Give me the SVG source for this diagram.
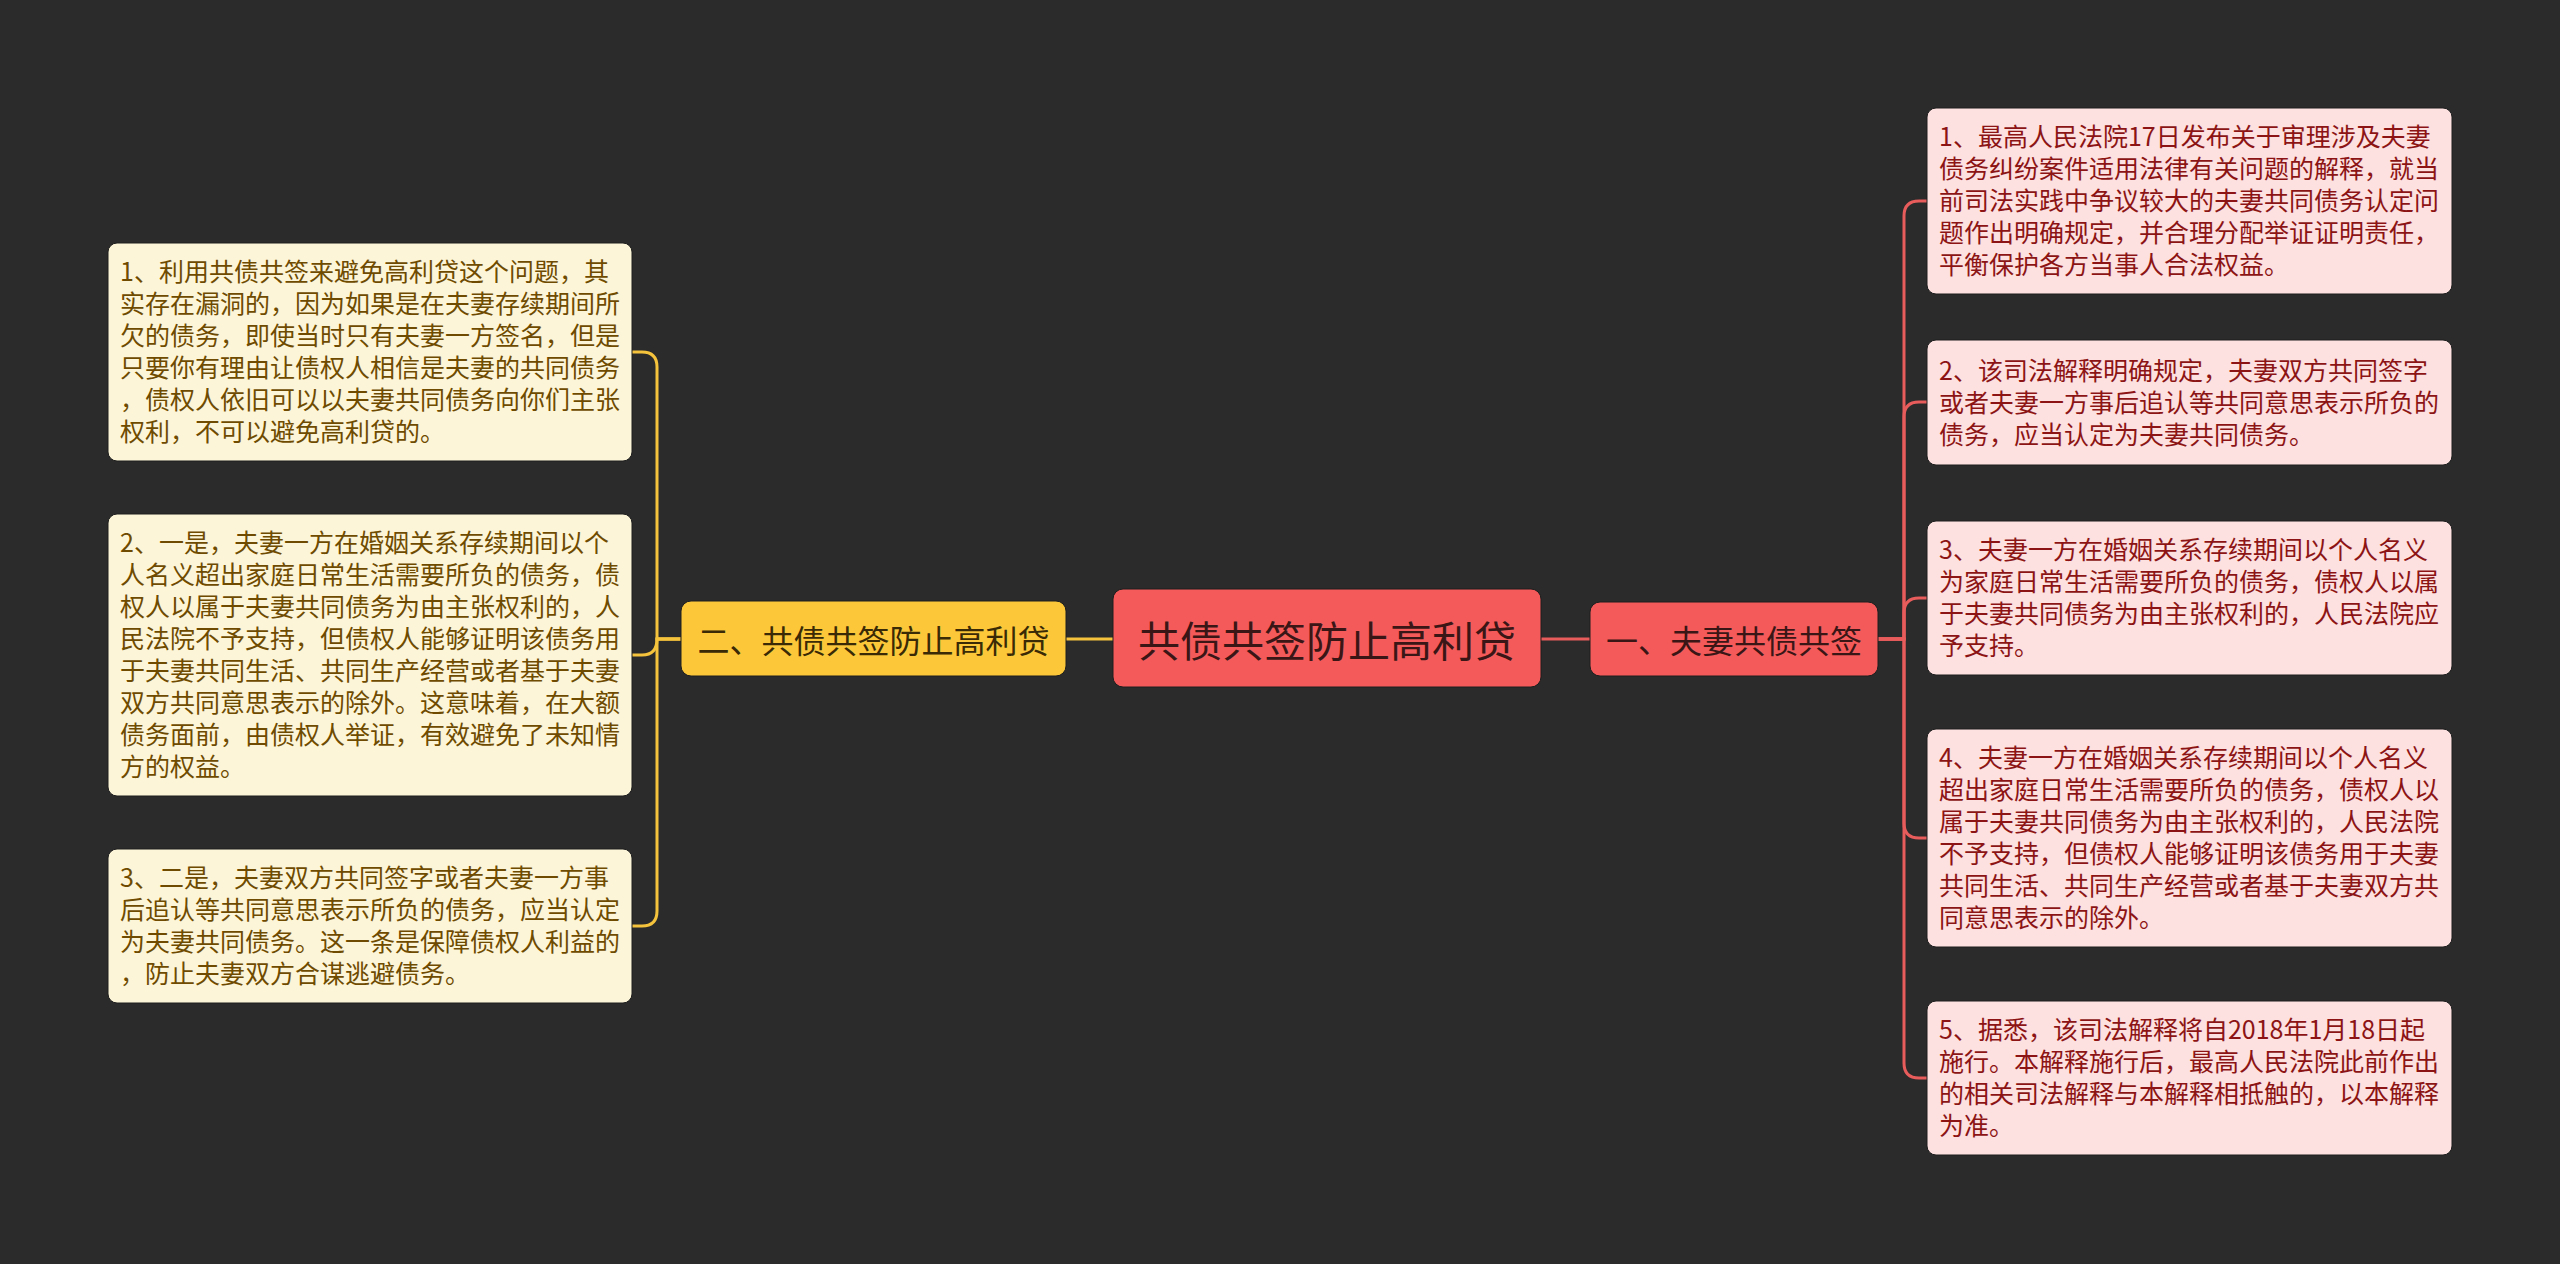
<svg xmlns="http://www.w3.org/2000/svg" width="2560" height="1264" viewBox="0 0 2560 1264">
<defs>
<style>
.bg{fill:#2b2b2b}
.leaf-l{fill:#fdf5d8;stroke:#1e1e1e;stroke-width:1}
.leaf-r{fill:#fde0e0;stroke:#1e1e1e;stroke-width:1}
.tl{font-family:"Microsoft YaHei","Noto Sans CJK SC",sans-serif;font-size:25px;fill:#6e4b00}
.tr{font-family:"Microsoft YaHei","Noto Sans CJK SC",sans-serif;font-size:25px;fill:#8c1414}
.root{fill:#f55a5a;stroke:#1e1e1e;stroke-width:1}
.yel{fill:#fcc83a;stroke:#1e1e1e;stroke-width:1}
.red{fill:#f55a5a;stroke:#1e1e1e;stroke-width:1}
.troot{font-family:"Microsoft YaHei","Noto Sans CJK SC",sans-serif;font-size:42px;fill:#3a1616;text-anchor:middle;dominant-baseline:central}
.tb{font-family:"Microsoft YaHei","Noto Sans CJK SC",sans-serif;font-size:32px;text-anchor:middle;dominant-baseline:central}
.cy{fill:none;stroke:#f6c33c;stroke-width:3}
.cr{fill:none;stroke:#e95c5c;stroke-width:3}
</style>
</defs>
<rect class="bg" x="0" y="0" width="2560" height="1264"/>
<g id="connectors">
<path class="cy" d="M1113,639 H1066"/>
<path class="cr" d="M1541,639 H1590"/>
<path class="cy" d="M681,639 H657 V367 Q657,352 642,352 H632"/>
<path class="cy" d="M681,639 H657 Q657,655 642,655 H632"/>
<path class="cy" d="M681,639 H657 V911 Q657,926 642,926 H632"/>
<path class="cr" d="M1878,639 H1904 V216 Q1904,201 1919,201 H1927"/>
<path class="cr" d="M1878,639 H1904 V417 Q1904,402 1919,402 H1927"/>
<path class="cr" d="M1878,639 H1904 V613 Q1904,598 1919,598 H1927"/>
<path class="cr" d="M1878,639 H1904 V823 Q1904,838 1919,838 H1927"/>
<path class="cr" d="M1878,639 H1904 V1063 Q1904,1078 1919,1078 H1927"/>
</g>
<g id="root">
<rect class="root" x="1113" y="589" width="428" height="98" rx="10"/>
<text class="troot" x="1327" y="638">共债共签防止高利贷</text>
</g>
<g id="branch-left">
<rect class="yel" x="681" y="601" width="385" height="75" rx="10"/>
<text class="tb" x="873.5" y="638.5" fill="#3a2a05">二、共债共签防止高利贷</text>
</g>
<g id="branch-right">
<rect class="red" x="1590" y="602" width="288" height="74" rx="10"/>
<text class="tb" x="1734" y="639" fill="#3a1616">一、夫妻共债共签</text>
</g>
<g id="left-1">
<rect class="leaf-l" x="108" y="243" width="524" height="218" rx="9"/>
<text class="tl">
<tspan x="120" y="281">1、利用共债共签来避免高利贷这个问题，其</tspan>
<tspan x="120" y="313">实存在漏洞的，因为如果是在夫妻存续期间所</tspan>
<tspan x="120" y="345">欠的债务，即使当时只有夫妻一方签名，但是</tspan>
<tspan x="120" y="377">只要你有理由让债权人相信是夫妻的共同债务</tspan>
<tspan x="120" y="409">，债权人依旧可以以夫妻共同债务向你们主张</tspan>
<tspan x="120" y="441">权利，不可以避免高利贷的。</tspan>
</text>
</g>
<g id="left-2">
<rect class="leaf-l" x="108" y="514" width="524" height="282" rx="9"/>
<text class="tl">
<tspan x="120" y="552">2、一是，夫妻一方在婚姻关系存续期间以个</tspan>
<tspan x="120" y="584">人名义超出家庭日常生活需要所负的债务，债</tspan>
<tspan x="120" y="616">权人以属于夫妻共同债务为由主张权利的，人</tspan>
<tspan x="120" y="648">民法院不予支持，但债权人能够证明该债务用</tspan>
<tspan x="120" y="680">于夫妻共同生活、共同生产经营或者基于夫妻</tspan>
<tspan x="120" y="712">双方共同意思表示的除外。这意味着，在大额</tspan>
<tspan x="120" y="744">债务面前，由债权人举证，有效避免了未知情</tspan>
<tspan x="120" y="776">方的权益。</tspan>
</text>
</g>
<g id="left-3">
<rect class="leaf-l" x="108" y="849" width="524" height="154" rx="9"/>
<text class="tl">
<tspan x="120" y="887">3、二是，夫妻双方共同签字或者夫妻一方事</tspan>
<tspan x="120" y="919">后追认等共同意思表示所负的债务，应当认定</tspan>
<tspan x="120" y="951">为夫妻共同债务。这一条是保障债权人利益的</tspan>
<tspan x="120" y="983">，防止夫妻双方合谋逃避债务。</tspan>
</text>
</g>
<g id="right-1">
<rect class="leaf-r" x="1927" y="108" width="525" height="186" rx="9"/>
<text class="tr">
<tspan x="1939" y="146">1、最高人民法院17日发布关于审理涉及夫妻</tspan>
<tspan x="1939" y="178">债务纠纷案件适用法律有关问题的解释，就当</tspan>
<tspan x="1939" y="210">前司法实践中争议较大的夫妻共同债务认定问</tspan>
<tspan x="1939" y="242">题作出明确规定，并合理分配举证证明责任，</tspan>
<tspan x="1939" y="274">平衡保护各方当事人合法权益。</tspan>
</text>
</g>
<g id="right-2">
<rect class="leaf-r" x="1927" y="340" width="525" height="125" rx="9"/>
<text class="tr">
<tspan x="1939" y="380">2、该司法解释明确规定，夫妻双方共同签字</tspan>
<tspan x="1939" y="412">或者夫妻一方事后追认等共同意思表示所负的</tspan>
<tspan x="1939" y="444">债务，应当认定为夫妻共同债务。</tspan>
</text>
</g>
<g id="right-3">
<rect class="leaf-r" x="1927" y="521" width="525" height="154" rx="9"/>
<text class="tr">
<tspan x="1939" y="559">3、夫妻一方在婚姻关系存续期间以个人名义</tspan>
<tspan x="1939" y="591">为家庭日常生活需要所负的债务，债权人以属</tspan>
<tspan x="1939" y="623">于夫妻共同债务为由主张权利的，人民法院应</tspan>
<tspan x="1939" y="655">予支持。</tspan>
</text>
</g>
<g id="right-4">
<rect class="leaf-r" x="1927" y="729" width="525" height="218" rx="9"/>
<text class="tr">
<tspan x="1939" y="767">4、夫妻一方在婚姻关系存续期间以个人名义</tspan>
<tspan x="1939" y="799">超出家庭日常生活需要所负的债务，债权人以</tspan>
<tspan x="1939" y="831">属于夫妻共同债务为由主张权利的，人民法院</tspan>
<tspan x="1939" y="863">不予支持，但债权人能够证明该债务用于夫妻</tspan>
<tspan x="1939" y="895">共同生活、共同生产经营或者基于夫妻双方共</tspan>
<tspan x="1939" y="927">同意思表示的除外。</tspan>
</text>
</g>
<g id="right-5">
<rect class="leaf-r" x="1927" y="1001" width="525" height="154" rx="9"/>
<text class="tr">
<tspan x="1939" y="1039">5、据悉，该司法解释将自2018年1月18日起</tspan>
<tspan x="1939" y="1071">施行。本解释施行后，最高人民法院此前作出</tspan>
<tspan x="1939" y="1103">的相关司法解释与本解释相抵触的，以本解释</tspan>
<tspan x="1939" y="1135">为准。</tspan>
</text>
</g>
</svg>
